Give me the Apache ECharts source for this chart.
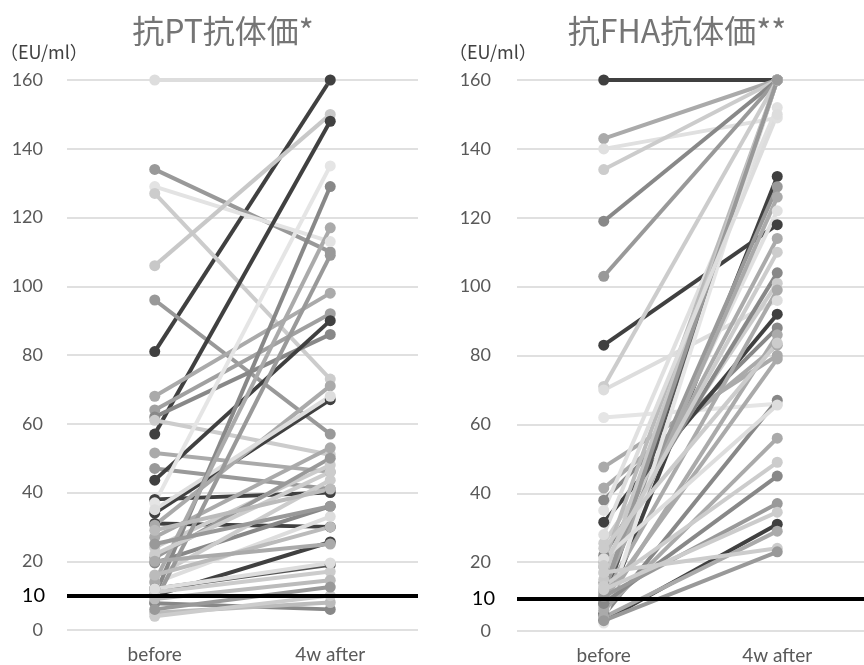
<!DOCTYPE html>
<html>
<head>
<meta charset="utf-8">
<title>抗PT / 抗FHA 抗体価</title>
<script src="https://cdn.jsdelivr.net/npm/echarts@6/dist/echarts.min.js"></script>
<style>
  html, body { margin: 0; padding: 0; background: #fff; }
  #main { width: 864px; height: 665px; }
</style>
</head>
<body>
<div id="main"></div>
<script>
// ============================================================
// Data (EU/ml), one entry per subject
// ============================================================

const categories = ['before', '4w after'];

// 抗PT抗体価
const ptBefore = [160, 81, 134, 129, 127, 106, 96, 57, 68, 64, 62, 61, 51.5, 47, 43.6, 38, 34, 37, 31, 30.5,
                  35, 27, 24, 21, 19.5, 15.5, 13.7, 10, 14, 8, 10, 12, 11, 7.8, 5, 4, 9, 6, 12, 16, 22, 29, 25, 20];
const ptAfter  = [160, 160, 110, 113, 73, 150, 57, 148, 98, 92, 86, 51, 46, 41, 90, 40, 67, 135, 30, 71,
                  68, 53, 48, 50, 36, 43.6, 33, 129, 117, 109, 25.6, 19, 17, 6, 8, 10, 14.5, 12.5, 19.5, 30, 46, 41, 36, 25];

// 抗FHA抗体価
const fhaBefore = [160, 143, 140, 134, 119, 103, 83, 71, 70, 62, 47.6, 41.5, 38, 35, 31.6, 5, 3, 8, 25.5, 22,
                   18.6, 16.8, 14, 12, 10, 7, 4.6, 2.3, 20, 15, 11, 9, 6, 13, 8, 10, 12, 4, 17, 3, 21, 24, 28, 19];
const fhaAfter  = [160, 160, 149, 160, 160, 160, 118, 160, 96, 66, 80, 83, 88, 152, 92, 132, 31, 160, 101, 104,
                   114, 122, 129, 126, 99, 86, 67, 160, 160, 160, 160, 79, 56, 49, 45, 37, 34.5, 29, 24, 23, 65.6, 83.6, 150, 110];

// reference level drawn across each panel
const refLevels = [10, 9.4];
const refLabel = '10';

// grey shade per subject line (style only)
const ptShade = ['#dddddd', '#404040', '#999999', '#e3e3e3', '#cccccc', '#c8c8c8', '#999999', '#404040', '#aaaaaa', '#a0a0a0',
                 '#888888', '#cccccc', '#aaaaaa', '#999999', '#404040', '#404040', '#404040', '#e5e5e5', '#404040', '#aaaaaa',
                 '#dddddd', '#aaaaaa', '#cccccc', '#999999', '#888888', '#cccccc', '#dddddd', '#888888', '#aaaaaa', '#999999',
                 '#404040', '#555555', '#cccccc', '#888888', '#bbbbbb', '#cccccc', '#bbbbbb', '#999999', '#dddddd', '#bbbbbb',
                 '#cccccc', '#bbbbbb', '#999999', '#aaaaaa'];
const fhaShade = ['#404040', '#aaaaaa', '#e0e0e0', '#cccccc', '#888888', '#999999', '#404040', '#cccccc', '#dddddd', '#e5e5e5',
                  '#aaaaaa', '#aaaaaa', '#888888', '#e0e0e0', '#404040', '#404040', '#404040', '#555555', '#cccccc', '#888888',
                  '#aaaaaa', '#e0e0e0', '#999999', '#aaaaaa', '#aaaaaa', '#aaaaaa', '#888888', '#e5e5e5', '#bbbbbb', '#c8c8c8',
                  '#999999', '#aaaaaa', '#aaaaaa', '#cccccc', '#888888', '#999999', '#cccccc', '#aaaaaa', '#cccccc', '#999999',
                  '#dddddd', '#cccccc', '#dddddd', '#cccccc'];

// ============================================================
// Chart
// ============================================================

const LABEL_FONT = 'Lato, "Noto Sans", sans-serif';
const CJK_FONT = '"Noto Sans CJK JP", "Noto Sans", sans-serif';

function subjectSeries(before, after, shades, axisIndex) {
    return before.map((b, i) => ({
        type: 'line',
        xAxisIndex: axisIndex,
        yAxisIndex: axisIndex,
        data: [b, after[i]],
        symbol: 'circle',
        symbolSize: 11,
        lineStyle: { color: shades[i], width: 4 },
        itemStyle: { color: shades[i] },
        emphasis: { disabled: true },
        animation: false
    }));
}

function refSeries(level, axisIndex) {
    return {
        type: 'line',
        xAxisIndex: axisIndex,
        yAxisIndex: axisIndex,
        data: [],
        animation: false,
        markLine: {
            silent: true,
            symbol: 'none',
            animation: false,
            lineStyle: { color: '#000', width: 4, type: 'solid' },
            label: {
                position: 'start',
                formatter: refLabel,
                distance: 22,
                fontSize: 20,
                color: '#000',
                fontFamily: LABEL_FONT
            },
            data: [{ yAxis: level }]
        }
    };
}

const yAxisBase = {
    type: 'value',
    min: 0,
    max: 160,
    interval: 20,
    axisLine: { show: false },
    axisTick: { show: false },
    axisLabel: { color: '#595959', fontSize: 18, fontFamily: LABEL_FONT, margin: 24 },
    splitLine: { lineStyle: { color: '#e0e0e0', width: 2 } }
};

const xAxisBase = {
    type: 'category',
    data: categories,
    boundaryGap: true,
    axisLine: { show: false },
    axisTick: { show: false },
    axisLabel: { color: '#595959', fontSize: 19, fontFamily: LABEL_FONT, margin: 15 },
    splitLine: { show: false }
};

const chart = echarts.init(document.getElementById('main'));

const titleText = { color: '#757575', fontSize: 32, fontWeight: 'normal', fontFamily: CJK_FONT };
const unitText = { color: '#404040', fontSize: 18, fontWeight: 'normal', fontFamily: CJK_FONT };

chart.setOption({
    backgroundColor: '#fff',
    title: [
        { text: '抗PT抗体価*', left: 218, top: 10, textAlign: 'center', textStyle: titleText },
        { text: '抗FHA抗体価**', left: 672, top: 10, textAlign: 'center', textStyle: titleText },
        { text: '（EU/ml）', left: 0, top: 43, textStyle: unitText, padding: 0 },
        { text: '（EU/ml）', left: 449, top: 43, textStyle: unitText, padding: 0 }
    ],
    grid: [
        { left: 67, top: 80, width: 351, height: 550 },
        { left: 517, top: 80, width: 356, height: 551 }
    ],
    xAxis: [
        Object.assign({ gridIndex: 0 }, xAxisBase),
        Object.assign({ gridIndex: 1 }, xAxisBase)
    ],
    yAxis: [
        Object.assign({ gridIndex: 0 }, yAxisBase),
        Object.assign({ gridIndex: 1 }, yAxisBase, { axisLabel: Object.assign({}, yAxisBase.axisLabel, { margin: 26 }) })
    ],
    series: [
        ...subjectSeries(ptBefore, ptAfter, ptShade, 0),
        ...subjectSeries(fhaBefore, fhaAfter, fhaShade, 1),
        refSeries(refLevels[0], 0),
        refSeries(refLevels[1], 1)
    ]
});
</script>
</body>
</html>
